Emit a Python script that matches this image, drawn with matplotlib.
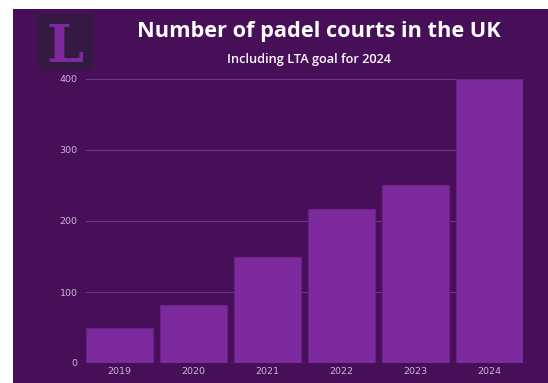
import matplotlib.pyplot as plt
from matplotlib.patches import Rectangle

# Padel courts in the UK, with the LTA target for 2024
years = ['2019', '2020', '2021', '2022', '2023', '2024']
courts = [50, 82, 150, 217, 250, 400]
yticks = [0, 100, 200, 300, 400]

bg = '#470f58'
bar_color = '#7d2a9e'
tick_color = '#cdb6da'

fig = plt.figure(figsize=(5.48, 3.83), dpi=100, facecolor='white')

# purple panel with a thin white margin on the top and left
fig.patches.append(Rectangle((13 / 548, 0), 1, (383 - 9) / 383,
                             transform=fig.transFigure, facecolor=bg,
                             edgecolor='none', zorder=-2))

# logo block
fig.patches.append(Rectangle((38 / 548, 1 - 70 / 383), 55 / 548, 56 / 383,
                             transform=fig.transFigure, facecolor='#341a42',
                             edgecolor='none', zorder=-1))
fig.text(65 / 548, 1 - 62 / 383, 'L', color=bar_color, fontsize=38,
         fontweight='bold', family='DejaVu Serif', ha='center', va='baseline')

fig.text(319 / 548, 1 - 31 / 383, 'Number of padel courts in the UK',
         color='white', fontsize=15.7, fontweight='bold', family='Open Sans',
         ha='center', va='center')
fig.text(309 / 548, 1 - 59 / 383, 'Including LTA goal for 2024',
         color='white', fontsize=9.2, fontweight='semibold', family='Open Sans',
         ha='center', va='center')

ax = fig.add_axes([86 / 548, 20 / 383, 437 / 548, 284 / 383])
ax.set_zorder(5)
ax.set_facecolor('none')
ax.bar(range(len(years)), courts, width=0.9, color=bar_color,
       edgecolor='#6a2288', linewidth=0.8, zorder=2)
ax.set_xlim(-0.45, len(years) - 0.55)
ax.set_ylim(0, 400)
ax.set_yticks(yticks)
ax.set_xticks(range(len(years)))
ax.set_xticklabels(years)
ax.grid(axis='y', color='#6a3782', linewidth=0.8, zorder=1)
ax.set_axisbelow(True)
for s in ax.spines.values():
    s.set_visible(False)
ax.tick_params(length=0, labelsize=6.8, labelcolor=tick_color, pad=6)
ax.tick_params(axis='x', pad=3)

fig.savefig('out.png', dpi=100, facecolor=fig.get_facecolor())
